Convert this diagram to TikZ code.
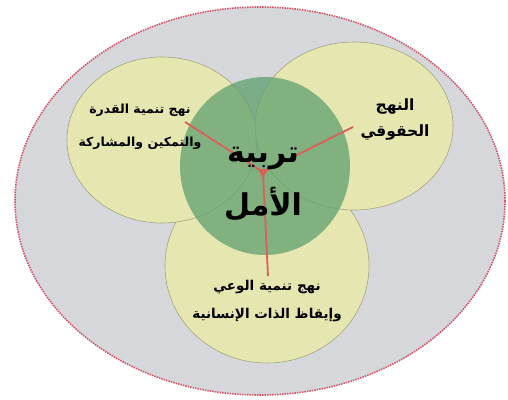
\documentclass[tikz,border=0pt]{standalone}
\usepackage{fontspec}
\newfontfamily\arabicfont[Script=Arabic]{DejaVu Sans}
\TeXXeTstate=1
\usetikzlibrary{shapes.geometric}
\definecolor{bggray}{RGB}{213,215,218}
\definecolor{venyellow}{RGB}{230,230,176}
\definecolor{vengreen}{RGB}{95,160,110}
\definecolor{venedge}{RGB}{165,165,130}
\definecolor{linered}{RGB}{218,96,90}
\definecolor{rimred}{RGB}{210,85,105}
\tikzset{
  venn/.style={fill=venyellow, draw=venedge, line width=0.6pt},
  redline/.style={linered, line width=1.8pt},
  lbl/.style={align=center, inner sep=0pt}
}
\begin{document}
\begin{tikzpicture}[x=1pt, y=-1pt]
	\useasboundingbox (0,0) rectangle (508,399);
	% 外层椭圆
	\draw [fill=bggray, draw=rimred, line width=1.6pt, dash pattern=on 1.5pt off 1pt] (260,201) ellipse [x radius=245, y radius=194];
	% 三个圆
	\draw [venn] (267,266) ellipse [x radius=102, y radius=97];
	\draw [venn] (162,140) ellipse [x radius=95, y radius=83];
	\draw [venn] (354,126) ellipse [x radius=99, y radius=84];
	% 中心圆, 半透明
	\fill [vengreen, opacity=0.75] (265,166) ellipse [x radius=85, y radius=89];
	% 红线
	\node [regular polygon, regular polygon sides=3, shape border rotate=180, fill=linered, inner sep=2.2pt] (hub) at (263,172) {};
	\coordinate (lEnd) at (185,122);
	\coordinate (rEnd) at (353,127);
	\coordinate (bEnd) at (268,276);
	\draw [redline] (hub.center) -- (lEnd);
	\draw [redline] (hub.center) -- (rEnd);
	\draw [redline] (hub.center) -- (bEnd);
	% 文字
	\node [lbl, font=\arabicfont\bfseries\fontsize{12.5}{33}\selectfont] (capacity) at (140,127) {\beginR نهج تنمية القدرة\endR\\\beginR والتمكين والمشاركة\endR};
	\node [lbl, font=\arabicfont\bfseries\fontsize{15.5}{26}\selectfont] (rights) at (395,120) {\beginR النهج\endR\\\beginR الحقوقي\endR};
	\node [lbl, font=\arabicfont\bfseries\fontsize{13.5}{28}\selectfont] (awareness) at (267,301) {\beginR نهج تنمية الوعي\endR\\\beginR وإيقاظ الذات الإنسانية\endR};
	\node [lbl, font=\arabicfont\bfseries\fontsize{30}{53}\selectfont] (hope) at (263,184) {\beginR تربية\endR\\\beginR الأمل\endR};
\end{tikzpicture}
\end{document}
